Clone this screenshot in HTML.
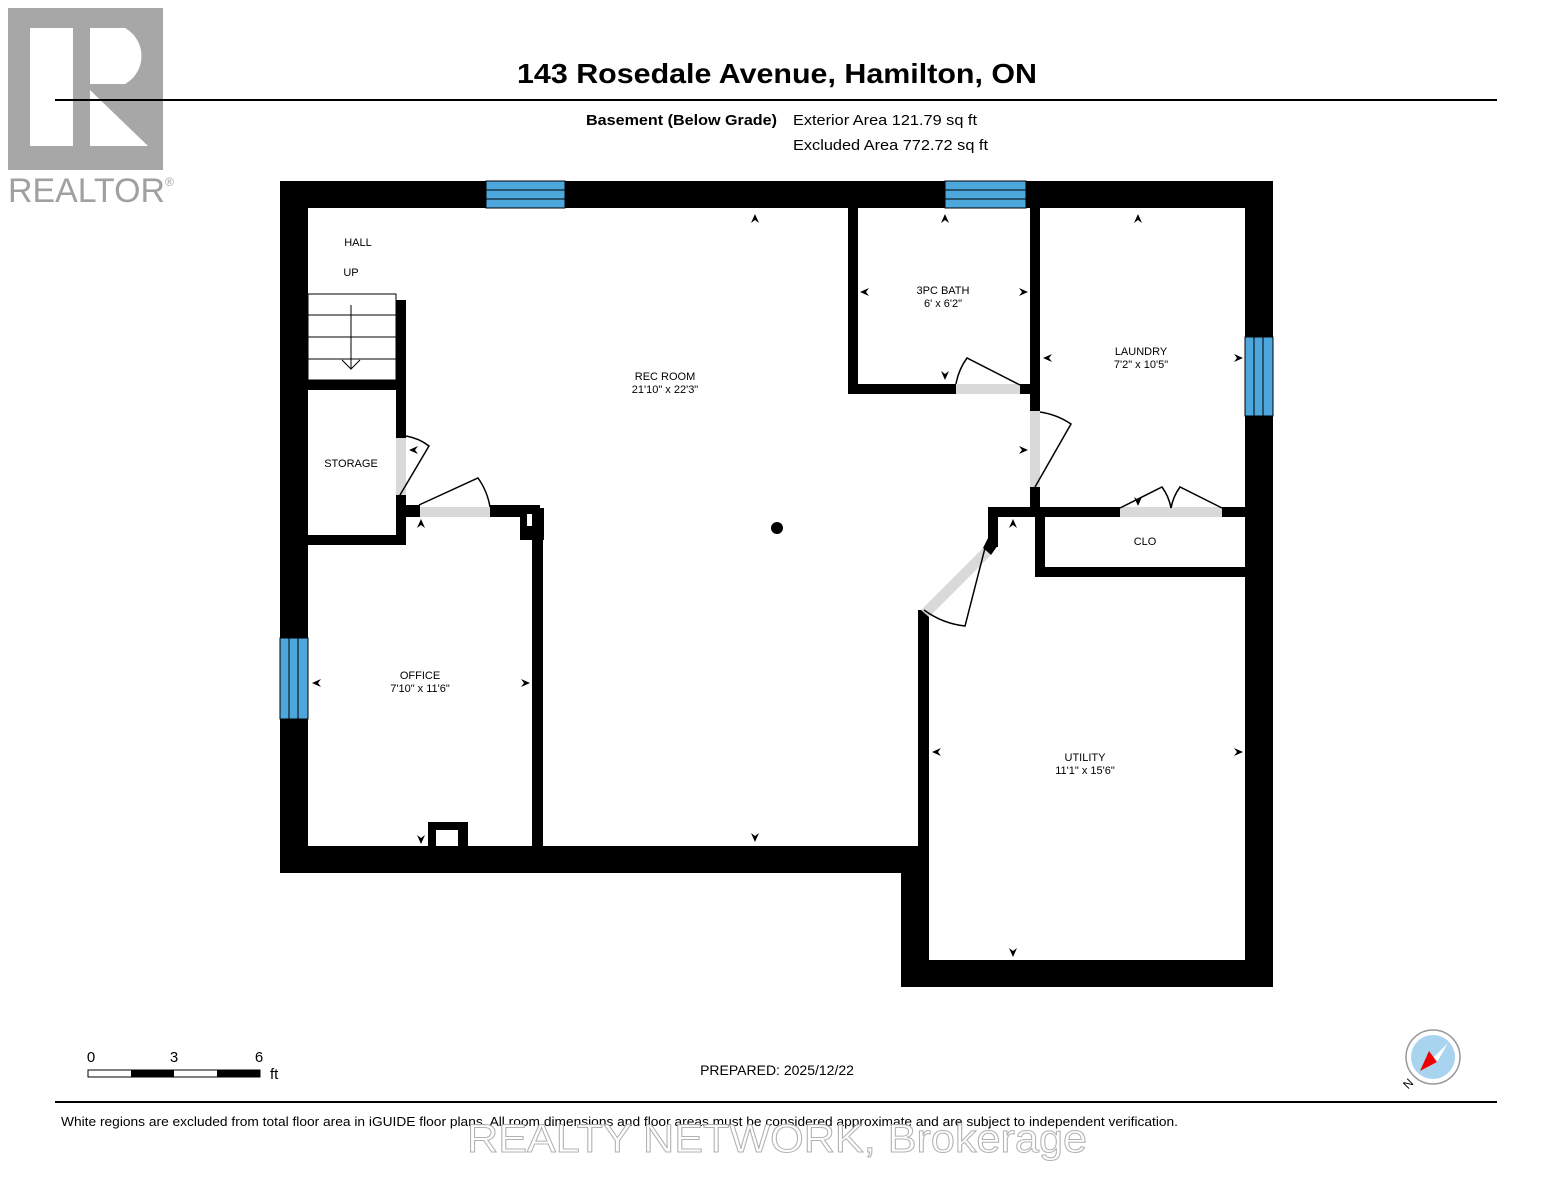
<!DOCTYPE html>
<html><head><meta charset="utf-8"><style>
html,body{margin:0;padding:0;background:#fff}
svg{display:block}
text{font-family:"Liberation Sans",Arial,sans-serif}
</style></head><body>
<svg width="1553" height="1200" viewBox="0 0 1553 1200" xmlns="http://www.w3.org/2000/svg">
<!-- logo -->
<rect x="8" y="8" width="155" height="162" fill="#a7a7a7"/>
<rect x="30" y="28" width="43" height="118" fill="#fff"/>
<path d="M90 28 H125 A32 32 0 0 1 125 84 H90 Z" fill="#fff"/>
<path d="M90 90 L148 146 H90 Z" fill="#fff"/>
<text x="8" y="202" font-size="34" fill="#a0a0a0" textLength="157" lengthAdjust="spacingAndGlyphs">REALTOR</text>
<text x="165" y="186" font-size="12" fill="#a0a0a0">®</text>

<text x="777" y="83" font-size="28" font-weight="bold" text-anchor="middle" textLength="520" lengthAdjust="spacingAndGlyphs">143 Rosedale Avenue, Hamilton, ON</text>
<rect x="55" y="99" width="1442" height="2" fill="#000"/>
<text x="586" y="125" font-size="15" font-weight="bold" textLength="191" lengthAdjust="spacingAndGlyphs">Basement (Below Grade)</text>
<text x="793" y="125" font-size="15" textLength="184" lengthAdjust="spacingAndGlyphs">Exterior Area 121.79 sq ft</text>
<text x="793" y="150" font-size="15" textLength="195" lengthAdjust="spacingAndGlyphs">Excluded Area 772.72 sq ft</text>

<g fill="#000">
<rect x="280" y="181" width="993" height="27"/>
<rect x="280" y="181" width="28" height="692"/>
<rect x="280" y="846" width="649" height="27"/>
<rect x="901" y="846" width="28" height="141"/>
<rect x="901" y="960" width="372" height="27"/>
<rect x="1245" y="181" width="28" height="806"/>
<rect x="918" y="610" width="11" height="240"/>
<rect x="396" y="300" width="10" height="138"/>
<rect x="308" y="380" width="98" height="10"/>
<rect x="308" y="535" width="98" height="10"/>
<rect x="396" y="495" width="10" height="50"/>
<rect x="396" y="505" width="24" height="12"/>
<rect x="490" y="505" width="50" height="12"/>
<rect x="520" y="508" width="24" height="32"/>
<rect x="532" y="508" width="11" height="340"/>
<rect x="428" y="822" width="40" height="26"/>
<rect x="848" y="208" width="10" height="186"/>
<rect x="848" y="384" width="108" height="10"/>
<rect x="1020" y="384" width="20" height="10"/>
<rect x="1030" y="208" width="10" height="203"/>
<rect x="1030" y="487" width="10" height="30"/>
<rect x="988" y="507" width="132" height="10"/>
<rect x="1222" y="507" width="23" height="10"/>
<rect x="1035" y="507" width="10" height="70"/>
<rect x="1035" y="567" width="210" height="10"/>
<rect x="988" y="507" width="10" height="40"/>
<polygon points="988,538 998,545 991,555 983,548"/>
<polygon points="918,610 929,612 929,620 918,620"/>
</g>
<rect x="436" y="830" width="22" height="16" fill="#fff"/>
<rect x="527" y="514" width="5" height="12" fill="#fff"/>
<g fill="#4da6dc" stroke="#000" stroke-width="1">
<rect x="486" y="181" width="79" height="27"/>
<rect x="945" y="181" width="81" height="27"/>
<rect x="1245" y="337" width="28" height="79"/>
<rect x="280" y="638" width="28" height="81"/>
</g>
<g stroke="#000" stroke-width="1">
<line x1="486" y1="190" x2="565" y2="190"/><line x1="486" y1="199" x2="565" y2="199"/>
<line x1="945" y1="190" x2="1026" y2="190"/><line x1="945" y1="199" x2="1026" y2="199"/>
<line x1="1254" y1="337" x2="1254" y2="416"/><line x1="1263" y1="337" x2="1263" y2="416"/>
<line x1="289" y1="638" x2="289" y2="719"/><line x1="298" y1="638" x2="298" y2="719"/>
</g>
<g fill="#d9d9d9">
<rect x="396" y="438" width="10" height="57"/>
<rect x="420" y="507" width="70" height="10"/>
<rect x="956" y="384" width="64" height="10"/>
<rect x="1030" y="411" width="10" height="76"/>
<rect x="1120" y="507" width="102" height="10"/>
<polygon points="983,548 991,555 929,617 921,610"/>
</g>
<g fill="none" stroke="#000" stroke-width="1.5">
<path d="M400 495 L429 446 A52 52 0 0 0 406 436"/>
<path d="M419 505 L478 478 A70 70 0 0 1 490 507"/>
<path d="M956 384 A62 62 0 0 1 967 358 L1020 385"/>
<path d="M1035 487 L1071 424 A75 75 0 0 0 1040 412"/>
<path d="M1120 508 L1162 487 A52 52 0 0 1 1171 508 A52 52 0 0 1 1180 487 L1222 508"/>
<path d="M985 548 L965 626 A85 85 0 0 1 924 610"/>
</g>
<g stroke="#000" stroke-width="1" fill="none">
<rect x="308" y="294" width="88" height="86"/>
<line x1="308" y1="315" x2="396" y2="315"/><line x1="308" y1="337" x2="396" y2="337"/><line x1="308" y1="359" x2="396" y2="359"/>
<line x1="351" y1="305" x2="351" y2="369"/><path d="M342 360 L351 369 L360 360"/>
</g>
<circle cx="777" cy="528" r="6" fill="#000"/>
<g fill="#000">
<path d="M755 214 l-4 9 l4 -3 l4 3z"/><path d="M755 842 l-4 -9 l4 3 l4 -3z"/>
<path d="M945 214 l-4 9 l4 -3 l4 3z"/><path d="M945 380 l-4 -9 l4 3 l4 -3z"/>
<path d="M1138 214 l-4 9 l4 -3 l4 3z"/>
<path d="M860 292 l9 -4 l-3 4 l3 4z"/><path d="M1028 292 l-9 -4 l3 4 l-3 4z"/>
<path d="M1043 358 l9 -4 l-3 4 l3 4z"/><path d="M1243 358 l-9 -4 l3 4 l-3 4z"/>
<path d="M1028 450 l-9 -4 l3 4 l-3 4z"/>
<path d="M409 450 l9 -4 l-3 4 l3 4z"/>
<path d="M421 519 l-4 9 l4 -3 l4 3z"/>
<path d="M1013 519 l-4 9 l4 -3 l4 3z"/>
<path d="M1138 506 l-4 -9 l4 3 l4 -3z"/>
<path d="M312 683 l9 -4 l-3 4 l3 4z"/><path d="M530 683 l-9 -4 l3 4 l-3 4z"/>
<path d="M421 844 l-4 -9 l4 3 l4 -3z"/>
<path d="M932 752 l9 -4 l-3 4 l3 4z"/><path d="M1243 752 l-9 -4 l3 4 l-3 4z"/>
<path d="M1013 957 l-4 -9 l4 3 l4 -3z"/>
</g>
<g font-size="11" text-anchor="middle">
<text x="358" y="246">HALL</text>
<text x="351" y="276">UP</text>
<text x="351" y="467">STORAGE</text>
<text x="665" y="380">REC ROOM</text><text x="665" y="393">21'10" x 22'3"</text>
<text x="943" y="294">3PC BATH</text><text x="943" y="307">6' x 6'2"</text>
<text x="1141" y="355">LAUNDRY</text><text x="1141" y="368">7'2" x 10'5"</text>
<text x="1145" y="545">CLO</text>
<text x="420" y="679">OFFICE</text><text x="420" y="692">7'10" x 11'6"</text>
<text x="1085" y="761">UTILITY</text><text x="1085" y="774">11'1" x 15'6"</text>
</g>
<g font-size="15">
<text x="91" y="1062" text-anchor="middle">0</text>
<text x="174" y="1062" text-anchor="middle">3</text>
<text x="259" y="1062" text-anchor="middle">6</text>
<text x="270" y="1079">ft</text>
</g>
<rect x="88" y="1070" width="172" height="7" fill="#fff" stroke="#000" stroke-width="1"/>
<rect x="131" y="1070" width="43" height="7" fill="#000"/>
<rect x="217" y="1070" width="43" height="7" fill="#000"/>
<text x="777" y="1075" font-size="14" text-anchor="middle">PREPARED: 2025/12/22</text>
<circle cx="1433" cy="1057" r="27" fill="#fff" stroke="#999" stroke-width="1.5"/>
<circle cx="1433" cy="1057" r="22" fill="#a8d4f0"/>
<polygon points="1420,1071 1448,1043 1437,1062" fill="#fff"/>
<polygon points="1420,1071 1429,1051 1437,1062" fill="#e00"/>
<text x="1404" y="1088" font-size="12" transform="rotate(-45 1408 1084)">N</text>
<rect x="55" y="1101" width="1442" height="2" fill="#000"/>
<text x="61" y="1126" font-size="13" textLength="1117" lengthAdjust="spacingAndGlyphs">White regions are excluded from total floor area in iGUIDE floor plans. All room dimensions and floor areas must be considered approximate and are subject to independent verification.</text>
<text x="777" y="1152" font-size="40" text-anchor="middle" fill="#fff" stroke="#aaa" stroke-width="1" opacity="0.9" textLength="620" lengthAdjust="spacingAndGlyphs">REALTY NETWORK, Brokerage</text>
</svg>
</body></html>
